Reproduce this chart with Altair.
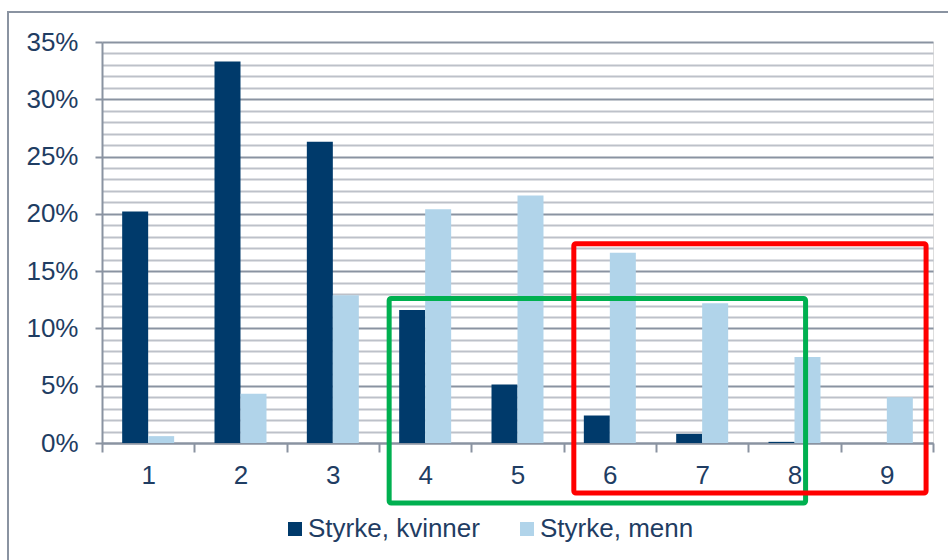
import altair as alt
import pandas as pd

# Styrkenivå 1-9 og andel per kjønn
kategorier = ["1", "2", "3", "4", "5", "6", "7", "8", "9"]
kvinner = [0.202, 0.333, 0.263, 0.116, 0.051, 0.024, 0.008, 0.001, 0.0]
menn = [0.006, 0.043, 0.129, 0.204, 0.216, 0.166, 0.122, 0.075, 0.040]
serier = ["Styrke, kvinner", "Styrke, menn"]

# Markeringsrammer (kategori-akse 0-9, verdi-akse i andel)
ramme_x1 = [3.11, 5.11]
ramme_x2 = [7.62, 8.925]
ramme_y1 = [0.1262, 0.174]
ramme_y2 = [-0.0524, -0.0436]
ramme_farge = ["#00B050", "#FF0000"]

MORK = "#003A6B"
LYS = "#B1D4EA"
TEKST = "#1F3D63"
GRAA = "#8A93A1"
GRAA_LYS = "#BDC1C9"
FONT = "Liberation Sans"
FS = 26

rows = []
for k, kv, me in zip(kategorier, kvinner, menn):
    rows.append({"kategori": k, "serie": serier[0], "andel": kv})
    rows.append({"kategori": k, "serie": serier[1], "andel": me})
df = pd.DataFrame(rows)

rammer = pd.DataFrame({
    "x1": ramme_x1, "x2": ramme_x2, "y1": ramme_y1, "y2": ramme_y2,
    "farge": ramme_farge,
})

y_verdier = [i / 100 for i in range(0, 36)]
major_test = "round(datum.value*100) % 5 == 0"

W, H = 831, 401

ramme_ytre = alt.Chart(alt.Data(values=[{}])).mark_rect(
    filled=False, stroke=GRAA, strokeWidth=2
).encode(
    x=alt.value(-94), x2=alt.value(880), y=alt.value(-30), y2=alt.value(560)
)

stolper = alt.Chart(df).mark_bar().encode(
    x=alt.X(
        "kategori:N",
        sort=kategorier,
        scale=alt.Scale(paddingInner=0, paddingOuter=0),
        axis=alt.Axis(
            title=None, labelAngle=0, tickBand="extent", tickSize=9,
            tickWidth=2, tickColor=GRAA, domainColor=GRAA, domainWidth=2,
            labelFontSize=FS, labelFont=FONT, labelColor=TEKST,
            labelPadding=10, grid=False,
        ),
    ),
    xOffset=alt.XOffset(
        "serie:N", sort=serier,
        scale=alt.Scale(domain=serier, paddingOuter=0.776, paddingInner=0),
    ),
    y=alt.Y(
        "andel:Q",
        scale=alt.Scale(domain=[0, 0.35], nice=False, zero=True),
        axis=alt.Axis(
            title=None, values=y_verdier,
            labelExpr=f"{major_test} ? round(datum.value*100) + '%' : ''",
            labelOverlap=False, labelFontSize=FS, labelFont=FONT,
            labelColor=TEKST, labelPadding=17,
            tickSize=7, tickWidth=2,
            tickColor=GRAA,
            tickOpacity={"condition": {"test": major_test, "value": 1}, "value": 0},
            domainColor=GRAA, domainWidth=2,
            grid=True, gridWidth=2,
            gridColor={"condition": {"test": major_test, "value": GRAA}, "value": GRAA_LYS},
        ),
    ),
    color=alt.Color(
        "serie:N",
        scale=alt.Scale(domain=serier, range=[MORK, LYS]),
        legend=alt.Legend(
            title=None, orient="none", legendX=180, legendY=474,
            direction="horizontal", symbolType="square", symbolSize=196,
            symbolStrokeWidth=0, labelFontSize=FS, labelFont=FONT,
            labelColor=TEKST, labelOffset=0, labelLimit=400,
            columnPadding=34,
        ),
    ),
)

markering = alt.Chart(rammer).mark_rect(
    filled=False, strokeWidth=5, cornerRadius=2
).encode(
    x=alt.X("x1:Q", scale=alt.Scale(domain=[0, 9], nice=False, zero=False), axis=None),
    x2="x2:Q",
    y=alt.Y("y1:Q", scale=alt.Scale(domain=[0, 0.35], nice=False), axis=None),
    y2="y2:Q",
    stroke=alt.Stroke("farge:N", scale=None),
)

chart = alt.layer(ramme_ytre, stolper, markering).resolve_scale(
    x="independent", y="independent"
).properties(
    width=W, height=H,
    autosize=alt.AutoSizeParams(type="none"),
    padding={"left": 102, "top": 42, "right": 15, "bottom": 117},
).configure_view(stroke=None).configure(background="white")

chart.save("out.html", embed_options={"renderer": "svg", "actions": False})
